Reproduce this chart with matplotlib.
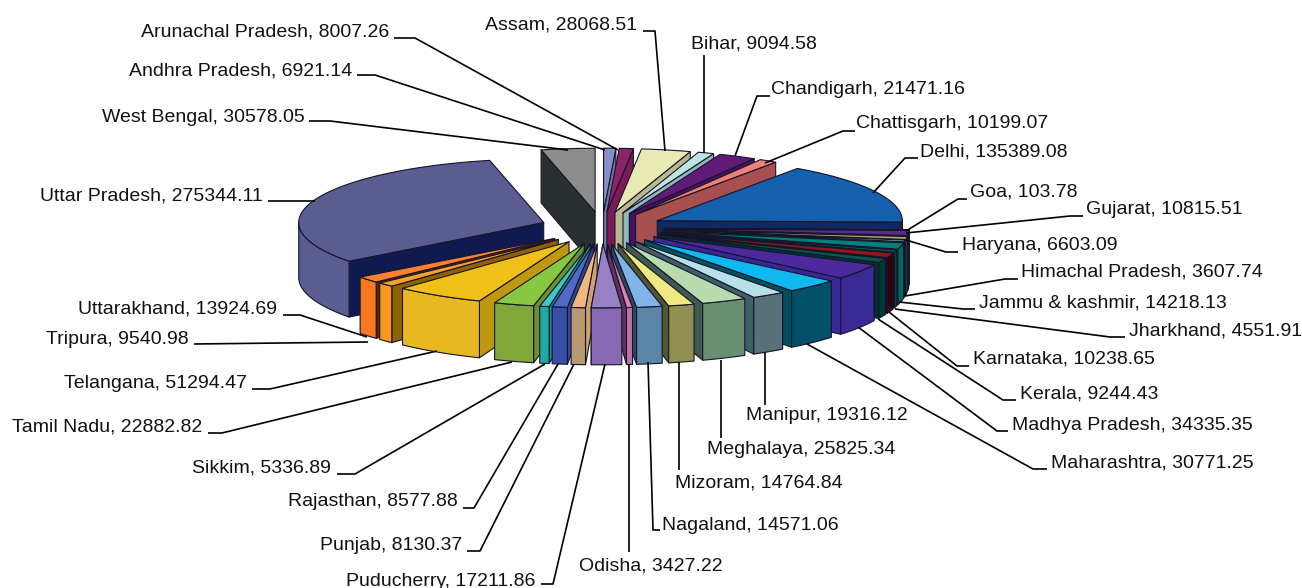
import numpy as np
import matplotlib
matplotlib.use("Agg")
import matplotlib.pyplot as plt
from matplotlib.patches import Polygon

plt.rcParams['font.family'] = ['Liberation Sans', 'DejaVu Sans']

states = ["Andhra Pradesh", "Arunachal Pradesh", "Assam", "Bihar", "Chandigarh", "Chattisgarh",
          "Delhi", "Goa", "Gujarat", "Haryana", "Himachal Pradesh", "Jammu & kashmir", "Jharkhand",
          "Karnataka", "Kerala", "Madhya Pradesh", "Maharashtra", "Manipur", "Meghalaya", "Mizoram",
          "Nagaland", "Odisha", "Puducherry", "Punjab", "Rajasthan", "Sikkim", "Tamil Nadu",
          "Telangana", "Tripura", "Uttarakhand", "Uttar Pradesh", "West Bengal"]
values = [6921.14, 8007.26, 28068.51, 9094.58, 21471.16, 10199.07,
          135389.08, 103.78, 10815.51, 6603.09, 3607.74, 14218.13, 4551.91,
          10238.65, 9244.43, 34335.35, 30771.25, 19316.12, 25825.34, 14764.84,
          14571.06, 3427.22, 17211.86, 8130.37, 8577.88, 5336.89, 22882.82,
          51294.47, 9540.98, 13924.69, 275344.11, 30578.05]

top_colors = ["#8a8fcc", "#8c2468", "#e9e9b4", "#bfe3e3", "#621a78", "#f08078",
              "#1560ac", "#d09090", "#5a2a90", "#a8a060", "#80d0c8", "#008078", "#006868",
              "#901818", "#005850", "#4a2a9c", "#10b8f0", "#b8e0e8", "#b8dcb0", "#f0e880",
              "#80b4e8", "#e080b4", "#9880c4", "#f0b880", "#5068c8", "#40c8c8", "#88c840",
              "#f0c018", "#f8a030", "#f88030", "#5a5c92", "#8c8c8c"]
wall_colors = ["#7075a8", "#7a1a58", "#c0c098", "#90b8b8", "#4a1060", "#a85050",
               "#0e2a60", "#a07070", "#3a1a70", "#707040", "#007068", "#006860", "#004848",
               "#300008", "#003838", "#3a2a94", "#005068", "#587078", "#689070", "#909050",
               "#5a84a8", "#c070a4", "#8868b0", "#b89870", "#3850a8", "#20a8a8", "#80a838",
               "#e8b820", "#f89820", "#f87820", "#5a5c92", "#808080"]
side_colors = ["#7075a8", "#7a1a58", "#b8b890", "#90b8b8", "#4a1060", "#a85050",
               "#0e2a60", "#806060", "#2a1060", "#505020", "#006058", "#004840", "#003838",
               "#300008", "#003030", "#3a2898", "#005060", "#3f6068", "#3f5a50", "#505830",
               "#2a4a60", "#603060", "#c09868", "#d0a070", "#304890", "#188888", "#6a9030",
               "#c09810", "#906000", "#602800", "#0e1a50", "#2a3030"]

labels_xy = [(129, 71), (141, 32), (485, 25), (691, 44), (771, 89), (856, 124),
             (920, 152), (970, 192), (1086, 210), (962, 246), (1021, 272), (979, 303), (1129, 331),
             (973, 359), (1012 + 8, 394), (1012, 425), (1051, 463), (746, 416), (707, 450), (675, 483),
             (662, 525), (579, 566), (346, 581), (320, 545), (288, 502), (192, 468), (12, 427),
             (64, 384), (46, 339), (78, 309), (40, 196), (102, 117)]
leaders = [[(357, 75), (375, 75), (605, 150)], [(394, 38), (415, 38), (618, 150)],
           [(643, 31), (655, 31), (665, 151)], [(704, 55), (704, 153)],
           [(770, 96), (757, 96), (735, 156)], [(855, 131), (843, 131), (765, 163)],
           [(918, 158), (905, 158), (873, 193)], [(967, 199), (958, 199), (906, 231)],
           [(1083, 216), (1070, 216), (906, 233)], [(958, 252), (946, 252), (906, 240)],
           [(1018, 279), (1005, 279), (905, 296)], [(975, 309), (963, 309), (899, 302)],
           [(1125, 337), (1110, 337), (895, 309)], [(969, 366), (957, 366), (889, 312)],
           [(1016, 400), (1003, 400), (878, 319)], [(1008, 431), (997, 431), (858, 327)],
           [(1047, 469), (1033, 469), (807, 344)], [(765, 405), (765, 352)],
           [(721, 438), (721, 360)], [(679, 470), (679, 362)],
           [(660, 530), (653, 530), (648, 362)], [(629, 552), (629, 364)],
           [(541, 584), (553, 584), (605, 364)], [(467, 551), (480, 551), (574, 364)],
           [(463, 508), (474, 508), (558, 364)], [(337, 474), (355, 474), (545, 364)],
           [(208, 433), (222, 433), (512, 362)], [(252, 389), (270, 389), (437, 351)],
           [(194, 344), (368, 342)], [(283, 315), (300, 315), (367, 337)],
           [(268, 201), (315, 201)], [(309, 121), (330, 121), (568, 150)]]

CX, CY, RX, SQ, EXPL = 602, 228, 245, 0.26, 62
EDGE = "#15152a"


def height(gy):
    return 55 - 1.6 * gy / RX


def project(gx, gy, drop=False):
    gx, gy = np.asarray(gx, float), np.asarray(gy, float)
    y = CY - gy * SQ
    if drop:
        y = y + height(gy)
    return np.column_stack([CX + gx, y])


fig = plt.figure(figsize=(13.02, 5.88), dpi=100)
ax = fig.add_axes([0, 0, 1, 1])
ax.set_xlim(0, 1302)
ax.set_ylim(588, 0)
ax.axis('off')

vals = np.array(values)
edges = np.concatenate([[0], np.cumsum(vals)]) / vals.sum() * 360
mids = (edges[:-1] + edges[1:]) / 2
order = np.argsort(-np.cos(np.radians(mids)))
z = 2
for i in order:
    a0, a1, m = edges[i], edges[i + 1], np.radians(mids[i])
    ox, oy = EXPL * np.sin(m), EXPL * np.cos(m)
    th = np.radians(np.linspace(a0, a1, max(3, int(a1 - a0) * 2)))
    gx, gy = ox + RX * np.sin(th), oy + RX * np.cos(th)
    tt, bb = project(gx, gy), project(gx, gy, True)
    apex_t, apex_b = project([ox], [oy]), project([ox], [oy], True)
    faces = []
    if a1 <= 180:
        faces.append((np.vstack([apex_t, tt[-1:], bb[-1:], apex_b]), side_colors[i]))
    if a0 >= 180:
        faces.append((np.vstack([apex_t, tt[:1], bb[:1], apex_b]), side_colors[i]))
    if a0 < 180 < a1:
        faces.append((np.vstack([apex_t, tt[-1:], bb[-1:], apex_b]), side_colors[i]))
    vis = (np.cos(th) < 0.02)
    if vis.sum() >= 2:
        faces.append((np.vstack([tt[vis], bb[vis][::-1]]), wall_colors[i]))
    faces.append((np.vstack([apex_t, tt]), top_colors[i]))
    for poly, col in faces:
        ax.add_patch(Polygon(poly, closed=True, facecolor=col, edgecolor=EDGE, lw=0.8,
                             joinstyle='round', zorder=z))
        z += 1

for name, v, xy, path in zip(states, values, labels_xy, leaders):
    ax.text(xy[0], xy[1], f"{name}, {v:.2f}", fontsize=14, color='#111111',
            ha='left', va='center', zorder=z + 2)
    p = np.array(path)
    ax.plot(p[:, 0], p[:, 1], color='black', lw=1.2, zorder=z + 1, solid_capstyle='butt')

fig.savefig("out.png", dpi=100)
